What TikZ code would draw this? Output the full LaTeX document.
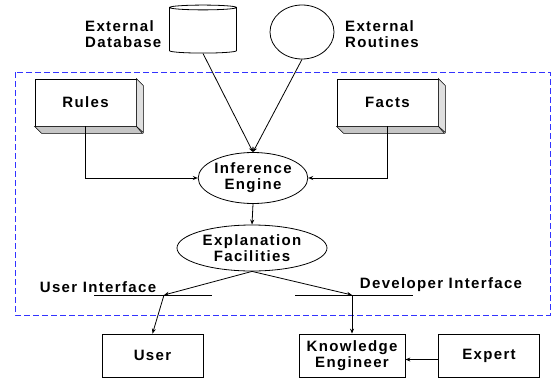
\documentclass[tikz,border=0pt]{standalone}
\usepackage{fontspec}
\newfontfamily\diagfont[LetterSpace=9]{Liberation Sans}
\usetikzlibrary{arrows.meta, positioning, shapes.geometric}
\tikzset{
  lbl/.style={font=\diagfont\bfseries\fontsize{15}{16}\selectfont, align=center, inner sep=0pt},
  plainbox/.style={lbl, draw, line width=0.8pt, minimum width=101pt, minimum height=43pt},
  store/.style={lbl, draw, fill=white, line width=0.8pt, minimum width=101pt, minimum height=47pt},
  bubble/.style={lbl, ellipse, draw, line width=0.8pt},
  conn/.style={line width=0.8pt},
  arr/.style={conn, -{Stealth[length=5pt,width=4pt]}},
  sysbox/.style={draw=blue!80, dash pattern=on 6pt off 3pt, line width=1pt}
}

\begin{document}
\begin{tikzpicture}[x=1pt, y=-1pt]
\useasboundingbox (0,0) rectangle (554,378);
%% system boundary
\draw[sysbox] (15,72) rectangle (550,315);
%% outside sources
\node[cylinder, shape border rotate=90, draw, line width=0.8pt, minimum width=67pt, minimum height=48pt, shape aspect=0.72] (db) at (203,31) {};
\node[ellipse, draw, line width=0.8pt, minimum width=64pt, minimum height=54pt, inner sep=0pt] (rt) at (302,32) {};
\node[lbl, anchor=west, align=left] (dblbl) at (85,34) {External\\Database};
\node[lbl, anchor=west, align=left] (rtlbl) at (345,34) {External\\Routines};
%% knowledge stores
\node[store] (rules) at (85.5,102.5) {Rules};
\node[store] (facts) at (387.5,102.5) {Facts};
\foreach \s in {rules, facts} {
  \draw[fill=gray!25, line width=0.6pt] (\s.north east) -- ++(7,7) -- ++(0,47) -- (\s.south east) -- cycle;
  \draw[fill=gray!45, line width=0.6pt] (\s.south west) -- ++(7,7) -- ++(101,0) -- (\s.south east) -- cycle;
}
%% reasoning
\node[bubble, minimum width=101pt, minimum height=51pt] (ie) at (253,178) {Inference\\Engine};
\node[bubble, minimum width=150pt, minimum height=46pt] (ef) at (252,248) {Explanation\\Facilities};
\draw[arr] (db.south) -- (ie.north);
\draw[arr] (rt.south) -- (ie.north);
\draw[arr] (rules.south) |- (ie.west);
\draw[arr] (facts.south) |- (ie.east);
\draw[arr] (ie.south) -- (ef.north);
%% interfaces
\coordinate (uiA) at (94,295);
\coordinate (uiB) at (212,295);
\coordinate (ui) at (164,295);
\coordinate (diA) at (295,295);
\coordinate (diB) at (413,295);
\coordinate (di) at (352,295);
\draw[conn] (uiA) -- (uiB);
\draw[conn] (diA) -- (diB);
\node[lbl] (uilbl) at (98,287) {User Interface};
\node[lbl] (dilbl) at (441,285) {Developer Interface};
\draw[arr] (ef.south) -- (ui);
\draw[arr] (ef.south) -- (di);
%% people
\node[plainbox] (user) at (152.5,355.5) {User};
\node[plainbox, minimum width=106pt] (ke) at (352,355.5) {Knowledge\\Engineer};
\node[plainbox] (expert) at (489,355.5) {Expert};
\draw[arr] (ui) -- (user.north);
\draw[arr] (di) -- (ke.north);
\draw[arr] ([yshift=-4pt]expert.west) -- ([yshift=-4pt]ke.east);
\end{tikzpicture}
\end{document}
